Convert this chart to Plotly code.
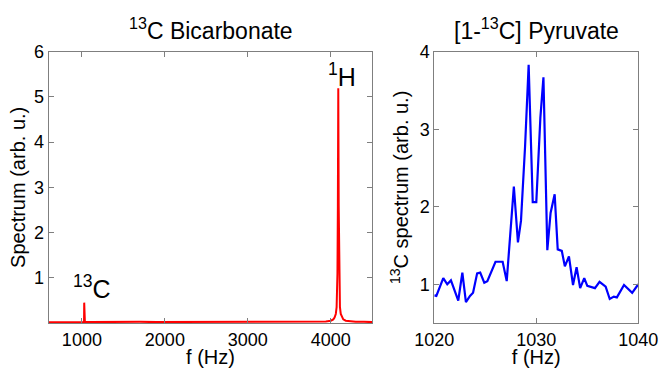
import plotly.graph_objects as go

# Left panel: 13C bicarbonate spectrum
f_left = [600, 800, 1000, 1020, 1026, 1028, 1030, 1036, 1100, 1300, 1500, 1700, 1900, 2100,
          2300, 2500, 2700, 2900, 3100, 3300, 3500, 3700, 3800, 3900, 3940, 4000, 4030,
          4045, 4060, 4070, 4075, 4080, 4085, 4090, 4095, 4100, 4105, 4110, 4120, 4135,
          4150, 4180, 4240, 4300, 4400, 4500]
s_left = [0.015, 0.018, 0.02, 0.02, 0.02, 0.45, 0.02, 0.02, 0.02, 0.025, 0.02, 0.025, 0.02,
          0.022, 0.02, 0.025, 0.02, 0.022, 0.02, 0.025, 0.02, 0.022, 0.025, 0.03, 0.035, 0.05,
          0.08, 0.12, 0.2, 0.35, 0.55, 1.1, 2.6, 5.19, 2.6, 1.1, 0.55, 0.35, 0.2, 0.12,
          0.08, 0.05, 0.035, 0.03, 0.025, 0.02]

# Right panel: [1-13C] pyruvate spectrum
f_right = [1020.0, 1020.2, 1020.88, 1021.27, 1021.63, 1022.35, 1022.75, 1023.1, 1023.5, 1023.8,
           1024.2, 1024.5, 1024.9, 1025.2, 1026.0, 1026.7, 1027.1, 1027.4, 1027.8, 1028.2,
           1028.5, 1028.9, 1029.25, 1029.65, 1030.0, 1030.4, 1030.7, 1031.08, 1031.4, 1031.8,
           1032.1, 1032.5, 1032.8, 1033.2, 1033.6, 1033.95, 1034.3, 1034.7, 1035.0, 1035.75,
           1036.2, 1036.8, 1037.2, 1037.6, 1037.9, 1038.6, 1039.4, 1040.0]
s_right = [0.857, 0.85, 1.08, 1.0, 1.05, 0.79, 1.15, 0.77, 0.85, 0.89,
           1.14, 1.15, 1.02, 1.04, 1.29, 1.29, 1.04, 1.57, 2.26, 1.54,
           1.82, 2.78, 3.83, 2.06, 2.06, 3.15, 3.67, 1.44, 1.92, 2.16,
           1.45, 1.43, 1.23, 1.36, 0.99, 1.22, 0.95, 1.08, 0.98, 0.95,
           1.03, 0.97, 0.81, 0.84, 0.83, 0.99, 0.89, 1.0]

left_xticks = [1000, 2000, 3000, 4000]
left_yticks = [1, 2, 3, 4, 5, 6]
right_xticks = [1020, 1030, 1040]
right_yticks = [1, 2, 3, 4]

FONT = "Liberation Sans, Arial, sans-serif"
W, H = 661, 368


def px(x):
    return x / W


def py(y):
    return (H - y) / H


fig = go.Figure()
fig.add_trace(go.Scatter(x=f_left, y=s_left, mode="lines",
                         line=dict(color="#ff0000", width=2), xaxis="x", yaxis="y",
                         showlegend=False, hoverinfo="skip"))
fig.add_trace(go.Scatter(x=f_right, y=s_right, mode="lines",
                         line=dict(color="#0000ff", width=2.2), xaxis="x2", yaxis="y2",
                         showlegend=False, hoverinfo="skip"))

ax_common = dict(showgrid=False, zeroline=False, showline=True, linecolor="#7f7f7f",
                 linewidth=1, mirror="ticks", ticks="inside", ticklen=5, automargin=False,
                 tickcolor="#7f7f7f", tickfont=dict(size=18, color="black", family=FONT))

ydom = [py(323), py(51.7)]
fig.update_layout(
    width=W, height=H,
    margin=dict(l=0, r=0, t=0, b=0, autoexpand=False),
    paper_bgcolor="white", plot_bgcolor="white",
    font=dict(family=FONT, color="black"),
    xaxis=dict(domain=[px(48.7), px(372.3)], range=[600, 4500], tickvals=left_xticks,
               title=dict(text="f (Hz)", font=dict(size=20), standoff=1), anchor="y",
               **ax_common),
    yaxis=dict(domain=ydom, range=[0, 6], tickvals=left_yticks,
               title=dict(text="Spectrum (arb. u.)", font=dict(size=20), standoff=3), anchor="x",
               **ax_common),
    xaxis2=dict(domain=[px(434.3), px(638.3)], range=[1020, 1040], tickvals=right_xticks,
                title=dict(text="f (Hz)", font=dict(size=20), standoff=1), anchor="y2",
                **ax_common),
    yaxis2=dict(domain=ydom, range=[0.5, 4], tickvals=right_yticks,
                title=dict(text="<sup>13</sup>C spectrum (arb. u.)", font=dict(size=20), standoff=5),
                anchor="x2", **ax_common),
)

fig.add_annotation(text="<sup>13</sup>C Bicarbonate", xref="paper", yref="paper",
                   x=px((48.7 + 372.3) / 2), y=py(29), showarrow=False,
                   font=dict(size=23, family=FONT), xanchor="center", yanchor="middle")
fig.add_annotation(text="[1-<sup>13</sup>C] Pyruvate", xref="paper", yref="paper",
                   x=px((434.3 + 638.3) / 2), y=py(29), showarrow=False,
                   font=dict(size=23, family=FONT), xanchor="center", yanchor="middle")
fig.add_annotation(text="<sup>13</sup>C", xref="x", yref="y", x=1120, y=0.8,
                   showarrow=False, font=dict(size=25, family=FONT),
                   xanchor="center", yanchor="middle")
fig.add_annotation(text="<sup>1</sup>H", xref="x", yref="y", x=4137, y=5.49,
                   showarrow=False, font=dict(size=25, family=FONT),
                   xanchor="center", yanchor="middle")

fig.write_html(
    "out.html",
    config={"displayModeBar": False, "staticPlot": True},
    post_script="document.body.style.margin='0';"
                "document.documentElement.style.overflow='hidden';",
)
